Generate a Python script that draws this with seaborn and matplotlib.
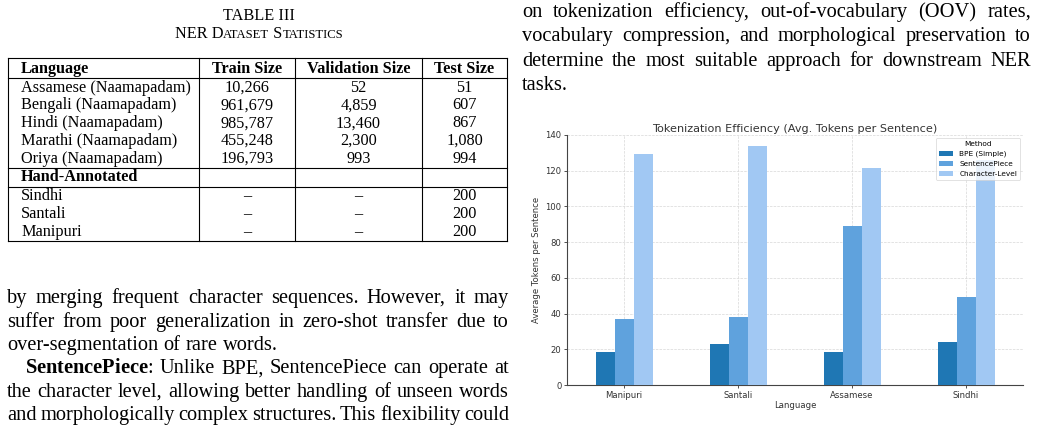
import pandas as pd
import seaborn as sns
import matplotlib
matplotlib.use("Agg")
import matplotlib.pyplot as plt
from matplotlib.lines import Line2D

W, H = 1041, 436

# chart data
languages = ["Manipuri", "Santali", "Assamese", "Sindhi"]
methods = ["BPE (Simple)", "SentencePiece", "Character-Level"]
bpe_tokens = [18.3, 22.8, 18.5, 23.9]
sp_tokens = [37.0, 38.1, 89.0, 49.5]
char_tokens = [129.5, 133.7, 121.3, 126.0]
colors = ["#1f77b4", "#5fa2dd", "#a1c8f3"]

# table data
tbl_header = ["Language", "Train Size", "Validation Size", "Test Size"]
tbl_lang = ["Assamese (Naamapadam)", "Bengali (Naamapadam)", "Hindi (Naamapadam)",
            "Marathi (Naamapadam)", "Oriya (Naamapadam)"]
tbl_train = ["10,266", "961,679", "985,787", "455,248", "196,793"]
tbl_val = ["52", "4,859", "13,460", "2,300", "993"]
tbl_test = ["51", "607", "867", "1,080", "994"]
hand_lang = ["Sindhi", "Santali", "Manipuri"]
hand_test = ["200", "200", "200"]

left_lines = [
    "by merging frequent character sequences. However, it may",
    "suffer from poor generalization in zero-shot transfer due to",
    "over-segmentation of rare words.",
    r"$\mathbf{SentencePiece}$: Unlike BPE, SentencePiece can operate at",
    "the character level, allowing better handling of unseen words",
    "and morphologically complex structures. This flexibility could",
]
right_lines = [
    "on tokenization efficiency, out-of-vocabulary (OOV) rates,",
    "vocabulary compression, and morphological preservation to",
    "determine the most suitable approach for downstream NER",
    "tasks.",
]

SERIF = "Liberation Serif"
BODY = 14.7
TSZ = 11.7

plt.rcParams["mathtext.fontset"] = "custom"
plt.rcParams["mathtext.rm"] = "Liberation Serif"
plt.rcParams["mathtext.bf"] = "Liberation Serif:bold"

fig = plt.figure(figsize=(W / 100, H / 100), dpi=100)
fig.patch.set_facecolor("white")
renderer = fig.canvas.get_renderer()


def fx(px):
    return px / W


def fy(py):
    return 1 - py / H


def put(x, y, s, size, weight="normal", ha="left", family=SERIF):
    return fig.text(fx(x), fy(y), s, fontsize=size, fontweight=weight,
                    ha=ha, va="baseline", family=family, color="black")


def width_of(t):
    return t.get_window_extent(renderer).width


def text_line(x0, x1, y, line, size, justify=True):
    words = line.split(" ")
    ts = [put(0, y, w, size) for w in words]
    widths = [width_of(t) for t in ts]
    a2 = put(0, y, "a a", size)
    a1 = put(0, y, "a", size)
    sp = width_of(a2) - 2 * width_of(a1)
    a2.remove()
    a1.remove()
    if justify and len(words) > 1:
        gap = (x1 - x0 - sum(widths)) / (len(words) - 1)
    else:
        gap = sp
    x = x0
    for t, w in zip(ts, widths):
        t.set_x(fx(x))
        x += w + gap


# ---- left column: table caption
def small_caps(cx, y, parts):
    ts = [put(0, y, s, sz) for s, sz in parts]
    tot = sum(width_of(t) for t in ts)
    x = cx - tot / 2
    for t in ts:
        t.set_x(fx(x))
        x += width_of(t)


sc = TSZ * 0.78
small_caps(259, 20, [("TABLE III", TSZ)])
small_caps(259, 38, [("NER D", TSZ), ("ATASET", sc), (" S", TSZ), ("TATISTICS", sc)])

# table rules
xl, xr = 8, 507
col_x = [8, 199, 295, 422, 507]
for yy in [58, 78, 168, 187, 241]:
    fig.add_artist(Line2D([fx(xl), fx(xr)], [fy(yy), fy(yy)], color="black", lw=0.8))
for xx in col_x:
    fig.add_artist(Line2D([fx(xx), fx(xx)], [fy(58), fy(241)], color="black", lw=0.8))

centers = [(col_x[i] + col_x[i + 1]) / 2 for i in range(1, 4)]
put(21, 72.7, tbl_header[0], TSZ, "bold")
for c, s in zip(centers, tbl_header[1:]):
    put(c, 72.7, s, TSZ, "bold", ha="center")

row_base = [91.7, 109.3, 127.3, 145.0, 162.7]
for yb, a, b, c, d in zip(row_base, tbl_lang, tbl_train, tbl_val, tbl_test):
    put(21, yb, a, TSZ)
    for cx, s in zip(centers, [b, c, d]):
        put(cx, yb, s, TSZ, ha="center")
put(21, 180.7, "Hand-Annotated", TSZ, "bold")
hand_base = [200.0, 217.7, 235.7]
for yb, a, d in zip(hand_base, hand_lang, hand_test):
    put(21, yb, a, TSZ)
    put(centers[0], yb, "\u2013", TSZ, ha="center")
    put(centers[1], yb, "\u2013", TSZ, ha="center")
    put(centers[2], yb, d, TSZ, ha="center")

# body text, left column
left_base = [303, 326.5, 350, 373.3, 396.6, 420]
for i, (yb, line) in enumerate(zip(left_base, left_lines)):
    x0 = 25 if i == 3 else 7
    text_line(x0, 509, yb, line, BODY, justify=(i != 2))

# body text, right column
right_base = [17, 41.3, 65.6, 90]
for i, (yb, line) in enumerate(zip(right_base, right_lines)):
    text_line(522, 1031, yb, line, BODY, justify=(i < 3))

# ---- chart
df = pd.DataFrame({
    "Language": languages * 3,
    "Tokens": bpe_tokens + sp_tokens + char_tokens,
    "Method": [m for m in methods for _ in languages],
})

ax = fig.add_axes([fx(567), fy(385), (1023 - 567) / W, (385 - 135) / H])
sns.barplot(data=df, x="Language", y="Tokens", hue="Method", hue_order=methods,
            order=languages, palette=colors, width=0.5, saturation=1,
            errorbar=None, ax=ax, zorder=3)
ax.set_xlim(-0.5, 3.5)
ax.set_ylim(0, 140)
ax.set_yticks(range(0, 141, 20))
ax.grid(True, linestyle="--", linewidth=0.5, color="#d8d8d8", zorder=0)
ax.set_axisbelow(True)
for s in ["top", "right"]:
    ax.spines[s].set_visible(False)
for s in ["left", "bottom"]:
    ax.spines[s].set_color("#444444")
    ax.spines[s].set_linewidth(0.8)
ax.tick_params(labelsize=6.1, colors="#333333", length=2.5, width=0.6, pad=1.5)
ax.set_title("Tokenization Efficiency (Avg. Tokens per Sentence)", fontsize=8.1,
             color="#333333", pad=2.5)
ax.set_xlabel("Language", fontsize=6.1, color="#333333", labelpad=1)
ax.set_ylabel("Average Tokens per Sentence", fontsize=6.1, color="#333333", labelpad=3)
leg = ax.legend(title="Method", loc="upper right", fontsize=5.3, title_fontsize=5.3,
                frameon=True, borderaxespad=0.4, handlelength=2.0)
leg.get_frame().set_linewidth(0.5)
leg.get_frame().set_edgecolor("#cccccc")

fig.savefig("out.png", dpi=100, facecolor="white")
